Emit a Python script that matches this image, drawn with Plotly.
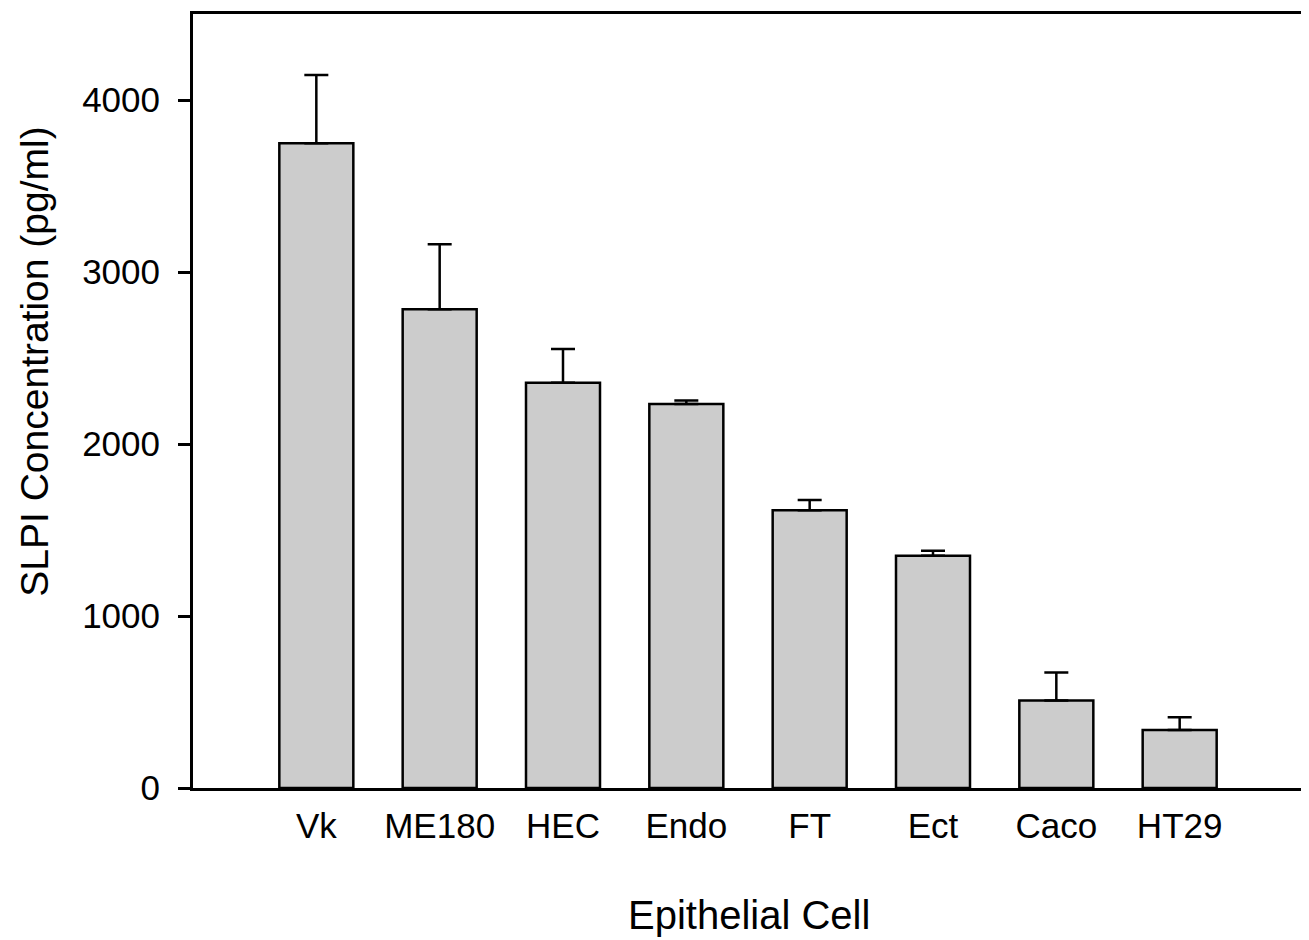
import plotly.graph_objects as go

cells = ["Vk", "ME180", "HEC", "Endo", "FT", "Ect", "Caco", "HT29"]
slpi_mean = [3748, 2784, 2356, 2232, 1615, 1351, 509, 337]
slpi_err = [397, 377, 196, 21, 60, 29, 162, 74]
y_ticks = [0, 1000, 2000, 3000, 4000]

font_family = "Liberation Sans, Arial, sans-serif"

fig = go.Figure()
fig.add_trace(go.Bar(
    x=cells,
    y=slpi_mean,
    width=0.6,
    marker=dict(color="#cccccc", line=dict(color="black", width=2.5)),
    error_y=dict(type="data", array=slpi_err, arrayminus=[0] * len(slpi_err),
                 symmetric=False, color="black", thickness=2.5, width=12),
))

fig.update_layout(
    width=1309, height=940,
    margin=dict(l=185, r=14, t=3, b=160),
    paper_bgcolor="white", plot_bgcolor="white",
    showlegend=False,
    font=dict(family=font_family, color="black"),
    xaxis=dict(
        type="category", range=[-1, 8],
        showline=True, linecolor="black", linewidth=3, mirror=True,
        ticks="", showgrid=False,
        tickfont=dict(size=35), ticklabelstandoff=5,
    ),
    yaxis=dict(
        range=[0, 4500], tickvals=y_ticks,
        showline=True, linecolor="black", linewidth=3, mirror=True,
        ticks="outside", ticklen=12, tickwidth=2.5, tickcolor="black",
        showgrid=False, zeroline=False,
        tickfont=dict(size=35), ticklabelstandoff=11,
    ),
    annotations=[
        dict(text="Epithelial Cell", xref="paper", yref="paper",
             x=0.5009, y=-0.1647, xanchor="center", yanchor="middle",
             showarrow=False, font=dict(size=40)),
        dict(text="SLPI Concentration (pg/ml)", xref="paper", yref="paper",
             x=-0.1423, y=0.5508, xanchor="center", yanchor="middle",
             textangle=-90, showarrow=False, font=dict(size=39)),
    ],
)

fig.write_html("out.html")
